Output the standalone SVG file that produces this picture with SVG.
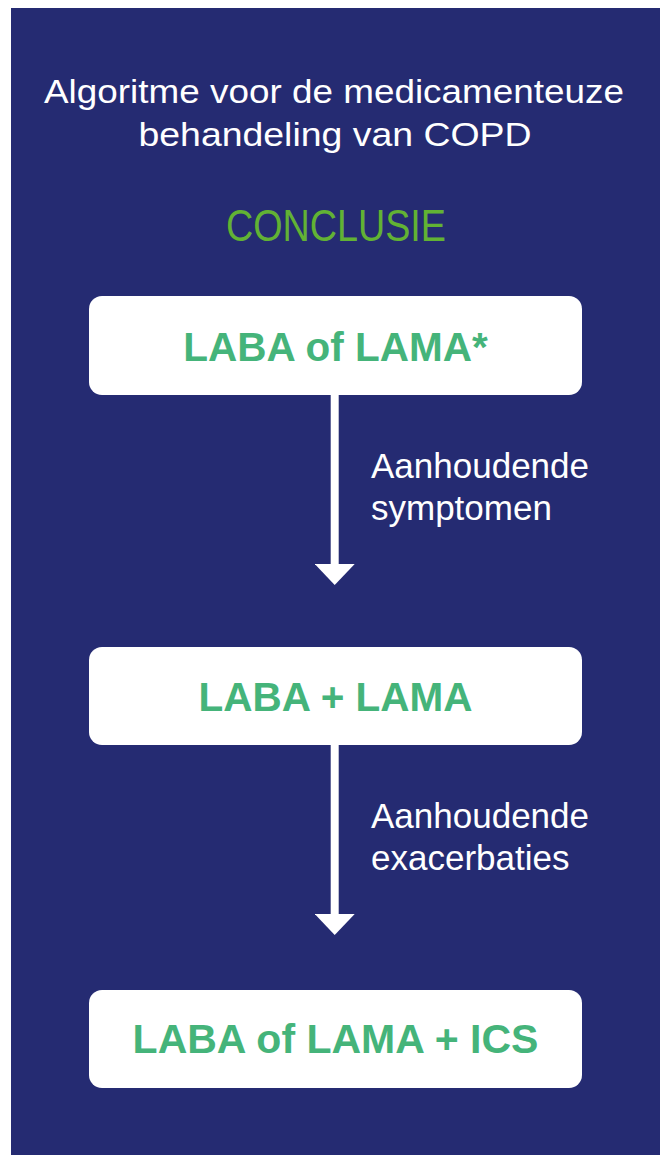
<svg xmlns="http://www.w3.org/2000/svg" width="665" height="1155" viewBox="0 0 665 1155">
  <style>
    .bg { fill: #252b72; }
    .title { font-family: "Liberation Sans", Arial, sans-serif; font-size: 34px; fill: #ffffff; text-anchor: middle; }
    .concl { font-family: "Liberation Sans", Arial, sans-serif; font-size: 44px; fill: #62b234; text-anchor: middle; }
    .box { fill: #ffffff; }
    .boxtext { font-family: "Liberation Sans", Arial, sans-serif; font-weight: bold; font-size: 40.5px; fill: #45b47a; text-anchor: middle; }
    .label { font-family: "Liberation Sans", Arial, sans-serif; font-size: 35px; fill: #ffffff; }
    .conn { stroke: #ffffff; stroke-width: 8; fill: none; }
  </style>
  <defs>
    <marker id="ah" markerUnits="userSpaceOnUse" markerWidth="40" markerHeight="22" viewBox="0 0 40 22" refX="20" refY="0" orient="0">
      <polygon points="0,0 40,0 20,21" fill="#ffffff"/>
    </marker>
  </defs>
  <rect class="bg" x="11" y="8" width="649" height="1147"/>
  <g id="title">
    <text class="title" x="334" y="103" textLength="580" lengthAdjust="spacingAndGlyphs">Algoritme voor de medicamenteuze</text>
    <text class="title" x="335" y="146" textLength="393" lengthAdjust="spacingAndGlyphs">behandeling van COPD</text>
  </g>
  <g id="conclusie">
    <text class="concl" x="336" y="241" textLength="220" lengthAdjust="spacingAndGlyphs">CONCLUSIE</text>
  </g>
  <g id="node1">
    <rect class="box" x="89" y="296" width="493" height="99" rx="13"/>
    <text class="boxtext" x="335.5" y="360.5">LABA of LAMA*</text>
  </g>
  <g id="node2">
    <rect class="box" x="89" y="647" width="493" height="98" rx="13"/>
    <text class="boxtext" x="335.5" y="710.5">LABA + LAMA</text>
  </g>
  <g id="node3">
    <rect class="box" x="89" y="990" width="493" height="98" rx="13"/>
    <text class="boxtext" x="335.5" y="1053" style="font-size:41px">LABA of LAMA + ICS</text>
  </g>
  <g id="connectors">
    <line class="conn" x1="334.7" y1="395" x2="334.7" y2="564" marker-end="url(#ah)"/>
    <line class="conn" x1="334.7" y1="745" x2="334.7" y2="914" marker-end="url(#ah)"/>
  </g>
  <g id="labels">
    <text class="label" x="371" y="478">Aanhoudende</text>
    <text class="label" x="371" y="520">symptomen</text>
    <text class="label" x="371" y="828">Aanhoudende</text>
    <text class="label" x="371" y="870">exacerbaties</text>
  </g>
</svg>
